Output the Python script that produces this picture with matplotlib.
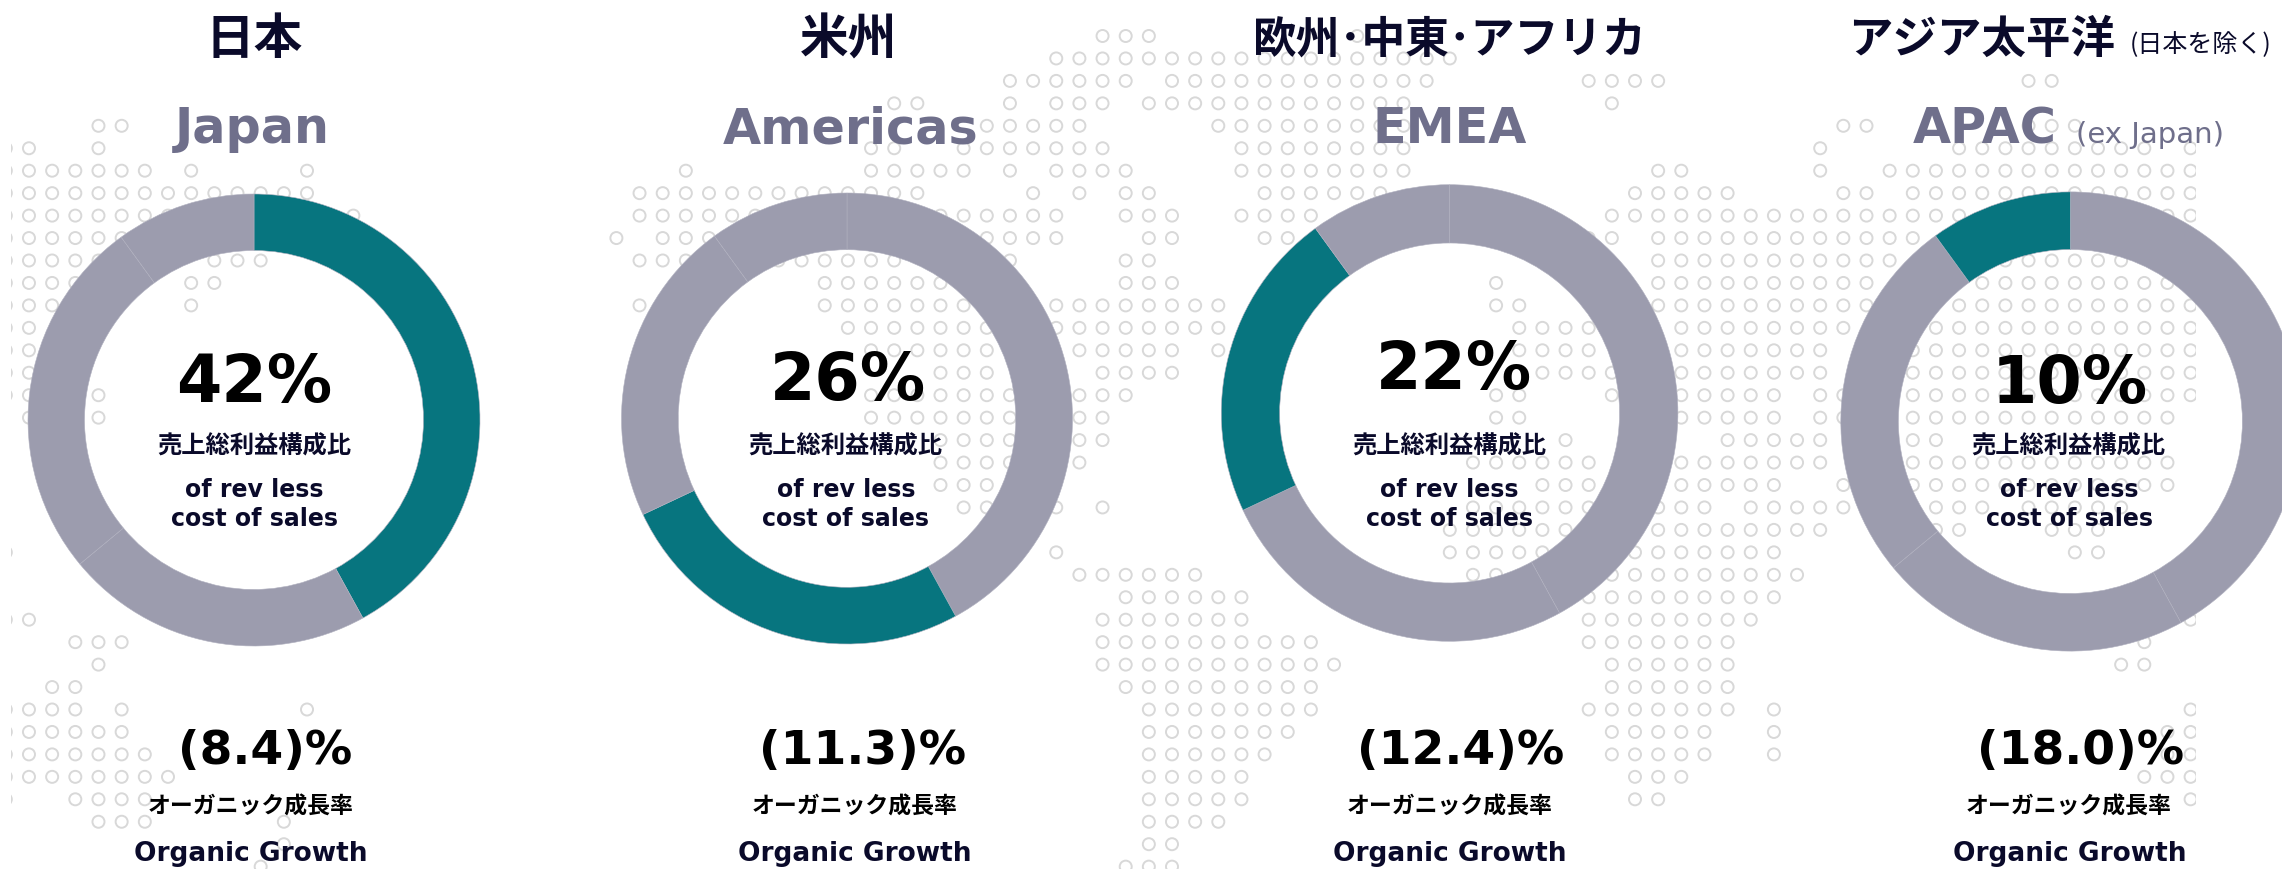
import matplotlib
matplotlib.use('Agg')
import matplotlib.pyplot as plt
from matplotlib.patches import Rectangle

W, H = 2282, 869
DPI = 100

# revenue split as it is ordered clockwise on each donut
ring_shares = [
    [42, 22, 26, 10],
    [42, 26, 22, 10],
    [42, 26, 22, 10],
    [42, 22, 26, 10],
]
highlight = [0, 1, 2, 3]
pct_labels = ['42%', '26%', '22%', '10%']
growth_labels = ['(8.4)%', '(11.3)%', '(12.4)%', '(18.0)%']
titles_ja = ['日本', '米州', '欧州･中東･アフリカ', 'アジア太平洋']
titles_en = ['Japan', 'Americas', 'EMEA', 'APAC']

# donut layout in pixels: centre x, centre y, outer radius, inner radius
donut_x = [254, 847, 1449.6, 2070.4]
donut_y = [420, 418.5, 413, 421.5]
donut_r = [226, 225.5, 228.3, 229.6]
donut_in = [169.5, 168.8, 170, 172]

# text anchors in pixels
title_x = [254.5, 849, 1449.6, 1981.6]
title_size = [35, 35, 31.5, 32]
en_x = [252, 851, 1450, 1985]
pct_x = [254.6, 848, 1454, 2070]
pct_y = [401.7, 400, 389, 402.7]
sub_x = [254, 845, 1449, 2068]
rev_x = [254.5, 846, 1449.6, 2069]
growth_x = [265, 863, 1461, 2081]
org_ja_x = [250.4, 855, 1449.6, 2068.6]
org_en_x = [251, 855, 1449.6, 2069.6]

# background dot map, occupied columns per row (row 0 on top)
map_left = {
    4: '4-5', 5: '0-1 4', 6: '0-6 8 13', 7: '0-13', 8: '0-8 15', 9: '0-6',
    10: '0-4 9-11', 11: '0-3 8-9', 12: '0-2 8', 13: '0-1', 14: '0-1', 15: '0-1',
    16: '0-1 4', 17: '1 4', 23: '0', 26: '0-1', 27: '3-5', 28: '4', 29: '2-3',
    30: '0-3 5 13', 31: '0-5', 32: '0-6', 33: '0-7', 34: '0 3-6', 35: '4-6 12',
    36: '12', 37: '11',
}
map_right = {
    0: '21-23 32',
    1: '19-36',
    2: '17-22 24-35 42-45 61-62',
    3: '12-13 17 19-21 23-34 43',
    4: '16-20 26-34 53-54 61-63',
    5: '11-12 15-21 27-34 52 58-66 68',
    6: '3 11-15 17 19-22 27-34 45-46 52 55-68',
    7: '1-13 18 20 22-23 28-33 44-48 53-54 56-68',
    8: '1-6 14-19 22-24 27-30 43-58 67-68',
    9: '0 2-4 16-19 23-24 28-29 42-43 45-56',
    10: '1-3 7-12 17 22-23 45-55 60-65',
    11: '9-14 22-24 38 45-54 59-67',
    12: '1 9-15 19-26 38-39 45-54 58-68',
    13: '10-16 19-26 39-42 46-53 57-68',
    14: '11-16 20-24 26 39-42 46-52 56-68',
    15: '14-16 21-24 40-43 46-52 56-68',
    16: '11-17 20-22 38-39 43 46-50 52-53 56-68',
    17: '11-17 20-21 38-39 46-50 52-53 56-67',
    18: '14-17 20-21 41 48-52 56-57',
    19: '14-17 20 37-42 46-52 56-67',
    20: '14-16 40-42 46-50 53 56-67',
    21: '15-16 19 21 37-42 45-47 49-53 57-59 61-65',
    22: '36-41 45-52 57-58 62-64',
    23: '19 36-40 44-50 63-64',
    24: '20-25 37-38 43-51',
    25: '22-27 42-50',
    26: '21-27 42-49 68',
    27: '21-30 42-48 66',
    28: '21-31 43-48 65-66',
    29: '22-30 43-48',
    30: '23-30 42-48 50 68',
    31: '23-29 43-47 50 67-68',
    32: '23-28 43-47 50 67-68',
    33: '23-27 44-46 66-68',
    34: '23-27 44-45 68',
    35: '23-26',
    36: '23-24',
    37: '22-24',
}


def expand(spec):
    cols = []
    for part in spec.split():
        if '-' in part:
            a, b = part.split('-')
            cols.extend(range(int(a), int(b) + 1))
        else:
            cols.append(int(part))
    return cols


def map_points(rows, x0, dx):
    xs, ys = [], []
    for r, spec in rows.items():
        for c in expand(spec):
            xs.append(x0 + dx * c)
            ys.append(H - (36 + 22.45 * r))
    return xs, ys


JP = ['Noto Sans CJK JP', 'DejaVu Sans']
NAVY = '#0a0a2a'
SLATE = '#6f6f8b'
TEAL = '#07757f'
GREY = '#9c9cae'
SEAM = '#b0b0bf'

fig = plt.figure(figsize=(W / DPI, H / DPI), dpi=DPI)
ax = fig.add_axes([0, 0, 1, 1])

# map dots, cropped the same way as the picture behind the chart
clip = Rectangle((11, 0), 2196 - 11, H, transform=ax.transData)
for rows, x0, dx in [(map_left, 5.8, 23.17), (map_right, 616.4, 23.15)]:
    xs, ys = map_points(rows, x0, dx)
    dots = ax.scatter(xs, ys, s=75, facecolors='none', edgecolors='#d8d8d8',
                      linewidths=1.4, zorder=1)
    dots.set_clip_path(clip)

for i in range(4):
    colors = [GREY] * 4
    colors[highlight[i]] = TEAL
    wedges, _ = ax.pie(ring_shares[i], center=(donut_x[i], H - donut_y[i]), radius=donut_r[i],
                       startangle=90, counterclock=False, colors=colors, frame=True,
                       wedgeprops=dict(width=donut_r[i] - donut_in[i], edgecolor=SEAM,
                                       linewidth=0.4))
    for w in wedges:
        w.set_zorder(2)

    ax.text(title_x[i], H - 40, titles_ja[i], family=JP, fontsize=title_size[i], fontweight='bold',
            color=NAVY, ha='center', va='center', zorder=3)
    ax.text(en_x[i], H - 143, titles_en[i], fontsize=35.5, fontweight='bold', color=SLATE,
            ha='center', va='baseline', zorder=3)
    ax.text(pct_x[i], H - pct_y[i], pct_labels[i], fontsize=47, fontweight='bold',
            color='black', ha='center', va='baseline', zorder=3)
    ax.text(sub_x[i], H - 447, '売上総利益構成比', family=JP, fontsize=17.5, fontweight='bold',
            color=NAVY, ha='center', va='center', zorder=3)
    ax.text(rev_x[i], H - 496.7, 'of rev less', fontsize=17, fontweight='bold', color=NAVY,
            ha='center', va='baseline', zorder=3)
    ax.text(rev_x[i], H - 526, 'cost of sales', fontsize=17, fontweight='bold', color=NAVY,
            ha='center', va='baseline', zorder=3)
    ax.text(growth_x[i], H - 764, growth_labels[i], fontsize=34, fontweight='bold',
            color='black', ha='center', va='baseline', zorder=3)
    ax.text(org_ja_x[i], H - 807, 'オーガニック成長率', family=JP, fontsize=16.5, fontweight='bold',
            color='black', ha='center', va='center', zorder=3)
    ax.text(org_en_x[i], H - 860.7, 'Organic Growth', fontsize=19, fontweight='bold',
            color=NAVY, ha='center', va='baseline', zorder=3)

ax.text(2201, H - 45, '(日本を除く)', family=JP, fontsize=18, color=NAVY,
        ha='center', va='center', zorder=3)
ax.text(2150, H - 143, '(ex Japan)', fontsize=21, color=SLATE, ha='center', va='baseline',
        zorder=3)

ax.set_xlim(0, W)
ax.set_ylim(0, H)
ax.axis('off')

fig.savefig('out.png', dpi=DPI, facecolor='white')
